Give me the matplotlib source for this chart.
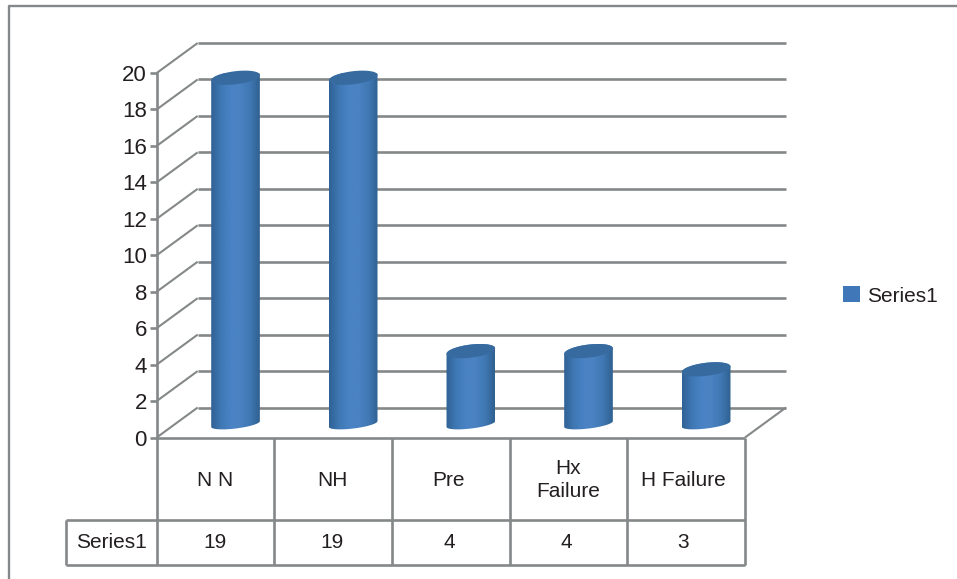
import numpy as np
import matplotlib
matplotlib.use('Agg')
import matplotlib.pyplot as plt
from matplotlib.lines import Line2D
from matplotlib.patches import Patch, Polygon
from matplotlib.colors import LinearSegmentedColormap

plt.rcParams['font.family'] = ['Liberation Sans', 'DejaVu Sans']

categories = ['N N', 'NH', 'Pre', 'Hx\nFailure', 'H Failure']
values = [19, 19, 4, 4, 3]
series_name = 'Series1'
y_ticks = list(range(0, 21, 2))

GRID = '#858889'
TEXT = '#231f20'
TOP = '#376a9e'

W, H = 957, 579
X0, X1, Y0, Y20 = 156.7, 745, 437.5, 73
px_x = (X1 - X0) / len(categories)
px_y = (Y0 - Y20) / 20
# depth of the floor, in data units
depth_x = 41 / px_x
depth_y = 30 / px_y

fig = plt.figure(figsize=(W / 100, H / 100), dpi=100)
ax = fig.add_axes([X0 / W, 1 - Y0 / H, (X1 - X0) / W, (Y0 - Y20) / H])
ax.set_xlim(0, len(categories))
ax.set_ylim(0, 20)
ax.patch.set_alpha(0)

line_kw = dict(color=GRID, lw=1.9, clip_on=False, solid_capstyle='butt', zorder=1)
thin_kw = dict(line_kw, lw=1.5)

# outer frame, open at the right and bottom
fig.add_artist(Line2D([8.5 / W, 8.5 / W, 1], [0, 1 - 6 / H, 1 - 6 / H], color='#85888a', lw=1.7))

# back wall gridlines and the slanted side wall lines
for v in y_ticks:
    ax.plot([0, depth_x], [v, v + depth_y], **thin_kw)
    ax.plot([depth_x, len(categories) + depth_x], [v + depth_y, v + depth_y], **line_kw)
ax.plot([len(categories), len(categories) + depth_x], [0, depth_y], **thin_kw)

# data table under the floor
row1 = -(520 - Y0) / px_y
row2 = -(565 - Y0) / px_y
left = -(X0 - 66) / px_x
ax.plot([0, len(categories)], [0, 0], **line_kw)
ax.plot([left, len(categories)], [row1, row1], **line_kw)
ax.plot([left, len(categories)], [row2, row2], **line_kw)
ax.plot([left, left], [row1, row2], **line_kw)
for i in range(len(categories) + 1):
    ax.plot([i, i], [0, row2], **line_kw)

cyl = LinearSegmentedColormap.from_list(
    'cyl', ['#2f6195', '#3f78b4', '#4a83c5', '#4a82c2', '#4078b4', '#2f6190'])
grad = np.linspace(0, 1, 128).reshape(1, -1)
half_w, tilt = 24.5, np.radians(7)


def ellipse(cx, cy, half_h, start, stop):
    # tilted ellipse outline, sized in pixels and returned in data units
    tt = np.linspace(start, stop, 50)
    ex = half_w * np.cos(tt)
    ey = half_h * np.sin(tt)
    rx = ex * np.cos(tilt) - ey * np.sin(tilt)
    ry = ex * np.sin(tilt) + ey * np.cos(tilt)
    return np.column_stack([cx + rx / px_x, cy + ry / px_y])


# cylinders stand halfway into the floor
for i, v in enumerate(values):
    cx = i + 0.5 + 20 / px_x
    base = 13.5 / px_y
    top = base + v
    lower = ellipse(cx, base, 4.5, np.pi, 2 * np.pi)
    upper = ellipse(cx, top, 6.5, 0, np.pi)
    outline = np.vstack([lower, upper, lower[:1]])
    body = Polygon(outline, closed=True, transform=ax.transData, fc='none', ec='none')
    ax.add_patch(body)
    im = ax.imshow(grad, cmap=cyl, aspect='auto', zorder=3,
                   extent=[cx - half_w / px_x, cx + half_w / px_x, base - 1, top + 1])
    im.set_clip_path(body)
    cap = Polygon(ellipse(cx, top, 6.5, 0, 2 * np.pi), closed=True, fc=TOP, ec='none', zorder=4, clip_on=False)
    ax.add_patch(cap)

ax.set_xlim(0, len(categories))
ax.set_ylim(0, 20)

# value axis
for s in ['top', 'right', 'bottom']:
    ax.spines[s].set_visible(False)
ax.spines['left'].set_color(GRID)
ax.spines['left'].set_linewidth(1.9)
ax.set_xticks([])
ax.set_yticks(y_ticks)
ax.tick_params(axis='y', length=5, width=1.9, color=GRID, labelcolor=TEXT, labelsize=16, pad=2)

# table text, slightly tighter than the cells
label_y = -(480 - Y0) / px_y
value_y = -(542.5 - Y0) / px_y
for i, (c, v) in enumerate(zip(categories, values)):
    tx = (215 + 117 * i - X0) / px_x
    lx = tx + 2 / px_x if '\n' in c else tx
    ax.text(lx, label_y, c, ha='center', va='center', fontsize=15, color=TEXT, linespacing=1.25)
    ax.text(tx, value_y, str(v), ha='center', va='center', fontsize=15, color=TEXT)
ax.text(left / 2, value_y, series_name, ha='center', va='center', fontsize=15, color=TEXT)

leg_handle = Patch(fc='#3f77b8', ec='none', label=series_name)
ax.legend(handles=[leg_handle], loc='center left', bbox_to_anchor=((837 - X0) / (X1 - X0), (Y0 - 296) / (Y0 - Y20)),
          frameon=False, fontsize=15, labelcolor=TEXT, handlelength=0.8, handleheight=0.8,
          handletextpad=0.35, borderpad=0.3, borderaxespad=0)

fig.savefig('out.png', dpi=100)
